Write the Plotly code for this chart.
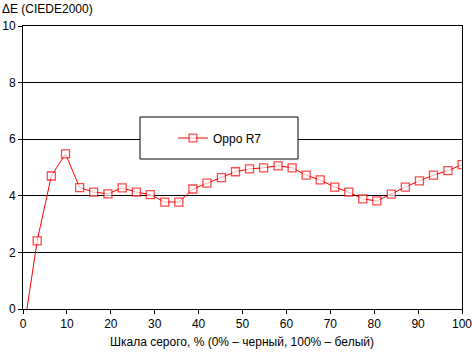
import plotly.graph_objects as go

x_vals = [0.9, 3.23, 6.45, 9.68, 12.9, 16.1, 19.35, 22.6, 25.8, 29.0, 32.3, 35.5, 38.7, 41.9,
          45.2, 48.4, 51.6, 54.8, 58.1, 61.3, 64.5, 67.7, 71.0, 74.2, 77.4, 80.6, 83.9,
          87.1, 90.3, 93.5, 96.8, 100.0]
de_vals = [0.0, 2.41, 4.70, 5.48, 4.29, 4.13, 4.07, 4.28, 4.13, 4.04, 3.78, 3.78, 4.24, 4.45,
           4.64, 4.85, 4.95, 4.99, 5.06, 4.99, 4.73, 4.56, 4.31, 4.13, 3.89, 3.82, 4.06,
           4.31, 4.53, 4.73, 4.89, 5.10]
series_name = "Oppo R7"
x_ticks = [0, 10, 20, 30, 40, 50, 60, 70, 80, 90, 100]
y_ticks = [0, 2, 4, 6, 8, 10]

W, H = 472, 352
L, R, T, B = 23, 10, 26, 43
pw, ph = W - L - R, H - T - B

def px_x(p):
    return (p - L) / pw

def px_y(p):
    return (H - B - p) / ph

sizes = [0] + [8] * (len(x_vals) - 1)

fig = go.Figure()
fig.add_trace(go.Scatter(
    x=x_vals, y=de_vals, name=series_name, mode="lines+markers",
    line=dict(color="#ff0000", width=1),
    marker=dict(symbol="square", size=sizes, color="white",
                line=dict(color="#ff0000", width=1.3)),
    cliponaxis=True,
))

font = dict(family="Liberation Sans, Arial, sans-serif", size=12, color="black")

fig.update_layout(
    width=W, height=H,
    margin=dict(l=L, r=R, t=T, b=B, pad=0, autoexpand=False),
    paper_bgcolor="white", plot_bgcolor="white",
    font=font,
    showlegend=True,
    legend=dict(x=px_x(173), y=px_y(138), xanchor="left", yanchor="middle",
                bgcolor="rgba(0,0,0,0)", borderwidth=0, font=font),
    xaxis=dict(range=[0, 100], tickvals=x_ticks, ticks="outside", ticklen=4,
               tickcolor="black", showline=True, linecolor="black", linewidth=1,
               mirror=True, showgrid=False, zeroline=False, fixedrange=True,
               automargin=False, ticklabeloverflow="allow"),
    yaxis=dict(range=[0, 10], tickvals=y_ticks, ticks="outside", ticklen=4,
               tickcolor="black", showline=True, linecolor="black", linewidth=1,
               mirror=True, showgrid=True, gridcolor="black", gridwidth=1,
               zeroline=False, fixedrange=True, automargin=False,
               ticklabeloverflow="allow"),
    shapes=[dict(type="rect", xref="paper", yref="paper",
                 x0=px_x(140), x1=px_x(298), y0=px_y(159), y1=px_y(117),
                 line=dict(color="black", width=1), fillcolor="white", layer="above")],
    annotations=[
        dict(text="ΔE (CIEDE2000)", xref="paper", yref="paper",
             x=px_x(0), y=px_y(9), xanchor="left", yanchor="middle",
             showarrow=False, font=font),
        dict(text="Шкала серого, % (0% – черный, 100% – белый)", xref="paper", yref="paper",
             x=px_x(242), y=px_y(342), xanchor="center", yanchor="middle",
             showarrow=False, font=font),
    ],
)

fig.write_html("out.html")
